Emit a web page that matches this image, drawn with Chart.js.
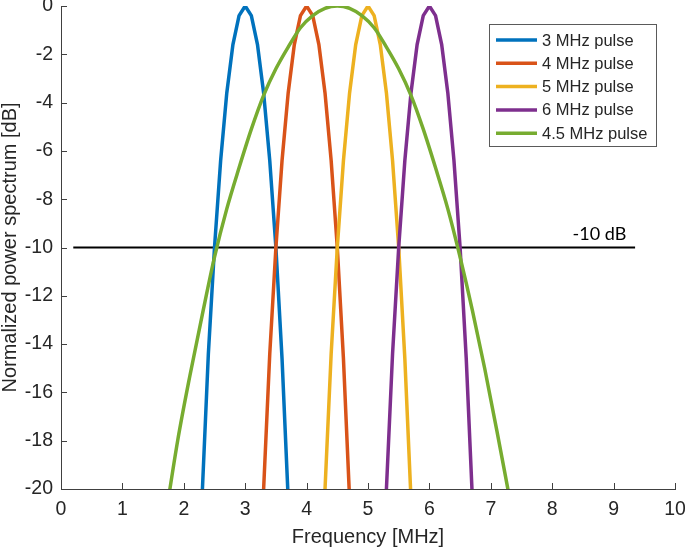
<!DOCTYPE html>
<html><head><meta charset="utf-8">
<script src="https://cdn.jsdelivr.net/npm/chart.js@4.4.0/dist/chart.umd.min.js"></script>
<style>html,body{margin:0;padding:0;background:#fff}#wrap{width:685px;height:549px}</style>
</head><body><div id="wrap"><canvas id="c" width="685" height="549"></canvas></div>
<script>
// ---- data ----
const seriesLabels = ['3 MHz pulse', '4 MHz pulse', '5 MHz pulse', '6 MHz pulse', '4.5 MHz pulse'];

const freq3 = [2.2, 2.3, 2.4, 2.5, 2.6, 2.7, 2.8, 2.9, 3.0, 3.1, 3.2, 3.3, 3.4, 3.5, 3.6, 3.7, 3.8];
const freq4 = [3.2, 3.3, 3.4, 3.5, 3.6, 3.7, 3.8, 3.9, 4.0, 4.1, 4.2, 4.3, 4.4, 4.5, 4.6, 4.7, 4.8];
const freq5 = [4.2, 4.3, 4.4, 4.5, 4.6, 4.7, 4.8, 4.9, 5.0, 5.1, 5.2, 5.3, 5.4, 5.5, 5.6, 5.7, 5.8];
const freq6 = [5.2, 5.3, 5.4, 5.5, 5.6, 5.7, 5.8, 5.9, 6.0, 6.1, 6.2, 6.3, 6.4, 6.5, 6.6, 6.7, 6.8];
const power3 = [-25.6, -20.2, -14.4, -10.0, -6.4, -3.6, -1.6, -0.4, 0, -0.4, -1.6, -3.6, -6.4, -10.0, -14.6, -20.4, -25.6];
const power4 = [-25.6, -20.0, -14.4, -10.0, -6.4, -3.6, -1.6, -0.4, 0, -0.4, -1.6, -3.6, -6.4, -10.0, -14.6, -20.4, -25.6];
const power5 = [-25.6, -20.0, -14.4, -10.0, -6.4, -3.6, -1.6, -0.4, 0, -0.4, -1.6, -3.6, -6.4, -10.0, -14.6, -20.4, -25.6];
const power6 = [-25.6, -20.0, -14.4, -10.0, -6.4, -3.6, -1.6, -0.4, 0, -0.4, -1.6, -3.6, -6.4, -10.0, -14.6, -20.4, -25.6];

const freq45 = [1.7, 1.9, 2.1, 2.3, 2.5, 2.7, 2.9, 3.1, 3.3, 3.5, 3.7, 3.9, 4.1, 4.3, 4.5,
                4.7, 4.9, 5.1, 5.3, 5.5, 5.7, 5.9, 6.1, 6.3, 6.5, 6.7, 6.9, 7.1, 7.3];
const power45 = [-21.2, -18.0, -15.3, -12.8, -10.4, -8.4, -6.7, -5.1, -3.7, -2.6, -1.7, -0.9, -0.4, -0.1, 0,
                 -0.1, -0.4, -0.9, -1.7, -2.6, -3.7, -5.1, -6.7, -8.4, -10.4, -12.6, -15.0, -17.6, -20.3];

const refLineFreq = [0.2, 9.35];
const refLinePower = [-10, -10];
const refLineLabel = '-10 dB';

const xTicks = [0, 1, 2, 3, 4, 5, 6, 7, 8, 9, 10];
const yTicks = [-20, -18, -16, -14, -12, -10, -8, -6, -4, -2, 0];
const xTitle = 'Frequency [MHz]';
const yTitle = 'Normalized power spectrum [dB]';

// ---- styles ----
const colors = ['#0072BD', '#D95319', '#EDB120', '#7E2F8E', '#77AC30'];
const FONT = "'Liberation Sans', Arial, sans-serif";
const TXT = '#262626';

function pts(xs, ys) { return xs.map((x, i) => ({x: x, y: ys[i]})); }
const freqs = [freq3, freq4, freq5, freq6, freq45];
const powers = [power3, power4, power5, power6, power45];

const datasets = seriesLabels.map((lab, i) => ({
  label: lab,
  data: pts(freqs[i], powers[i]),
  borderColor: colors[i],
  backgroundColor: colors[i],
  borderWidth: 3.5,
  pointRadius: 0,
  tension: 0,
  cubicInterpolationMode: i === 4 ? 'monotone' : 'default',
  fill: false,
  order: 6 - i
}));
datasets.push({
  label: refLineLabel,
  data: pts(refLineFreq, refLinePower),
  borderColor: '#000000',
  borderWidth: 2,
  pointRadius: 0,
  fill: false,
  order: 10,
  isRef: true
});

const decor = {
  id: 'decor',
  afterDraw(chart) {
    const ctx = chart.ctx;
    const xs = chart.scales.x, ys = chart.scales.y;
    const a = chart.chartArea;
    ctx.save();
    // inward ticks
    ctx.strokeStyle = '#404040';
    ctx.lineWidth = 1;
    ctx.beginPath();
    xTicks.forEach(v => {
      const px = Math.round(xs.getPixelForValue(v)) + 0.5;
      ctx.moveTo(px, a.bottom); ctx.lineTo(px, a.bottom - 6);
    });
    yTicks.forEach(v => {
      const py = Math.round(ys.getPixelForValue(v)) + 0.5;
      ctx.moveTo(a.left, py); ctx.lineTo(a.left + 6, py);
    });
    ctx.stroke();
    // -10 dB label
    ctx.fillStyle = '#000';
    ctx.font = "18px Lato, " + FONT;
    ctx.textAlign = 'center';
    ctx.textBaseline = 'middle';
    ctx.fillText(refLineLabel, xs.getPixelForValue(8.77), ys.getPixelForValue(-10) - 13);
    // legend
    const bx = 489.5, by = 24.5, bw = 167, bh = 122;
    ctx.fillStyle = '#fff';
    ctx.fillRect(bx, by, bw, bh);
    ctx.strokeStyle = '#5a5a5a';
    ctx.lineWidth = 1;
    ctx.strokeRect(bx, by, bw, bh);
    ctx.font = "16.5px " + FONT;
    ctx.textAlign = 'left';
    ctx.textBaseline = 'middle';
    seriesLabels.forEach((lab, i) => {
      const y = 40 + i * 23.3;
      ctx.strokeStyle = colors[i];
      ctx.lineWidth = 3.5;
      ctx.beginPath();
      ctx.moveTo(496, y); ctx.lineTo(537, y);
      ctx.stroke();
      ctx.fillStyle = TXT;
      ctx.fillText(lab, 542, y + 1);
    });
    ctx.restore();
  }
};

new Chart(document.getElementById('c'), {
  type: 'line',
  data: { datasets: datasets },
  options: {
    responsive: false,
    animation: false,
    devicePixelRatio: 1,
    layout: { padding: { left: 0, right: 10, top: 6, bottom: 0 } },
    plugins: { legend: { display: false }, tooltip: { enabled: false } },
    scales: {
      x: {
        type: 'linear', min: 0, max: 10,
        afterBuildTicks(s) { s.ticks = xTicks.map(v => ({value: v})); },
        afterFit(s) { s.height = 60; s.paddingLeft = 0; s.paddingRight = 0; },
        grid: { display: false, drawTicks: false },
        border: { display: true, color: '#404040', width: 1 },
        ticks: { color: TXT, font: { family: FONT, size: 19.5 }, padding: 9, maxRotation: 0, autoSkip: false },
        title: { display: true, text: xTitle, color: TXT, font: { family: FONT, size: 20 }, padding: { top: 0, bottom: 0 } }
      },
      y: {
        type: 'linear', min: -20, max: 0,
        afterBuildTicks(s) { s.ticks = yTicks.map(v => ({value: v})); },
        afterFit(s) { s.width = 61; s.paddingTop = 0; s.paddingBottom = 0; },
        grid: { display: false, drawTicks: false },
        border: { display: true, color: '#404040', width: 1 },
        ticks: { color: TXT, font: { family: FONT, size: 19.5 }, padding: 8, autoSkip: false },
        title: { display: true, text: yTitle, color: TXT, font: { family: FONT, size: 20 }, padding: { top: -2, bottom: 0 } }
      }
    }
  },
  plugins: [decor]
});
</script>
</body></html>
